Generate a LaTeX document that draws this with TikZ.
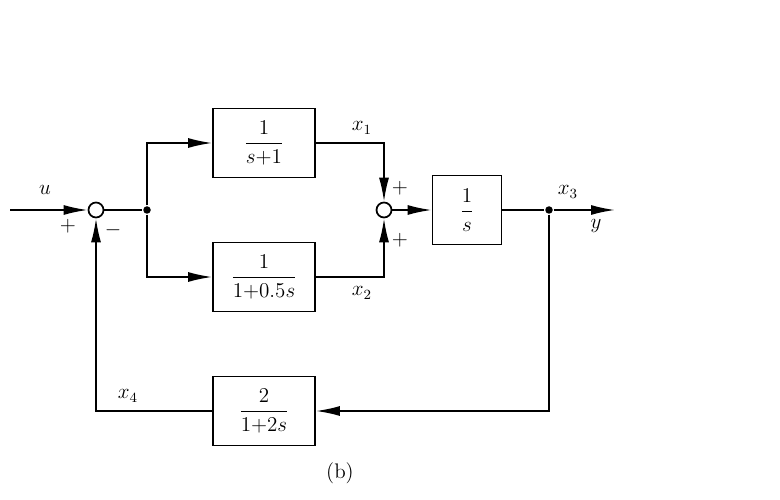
\documentclass[tikz,border=0pt]{standalone}
\usepackage{amsmath}
\usetikzlibrary{arrows.meta, positioning, calc}

\begin{document}
\begin{tikzpicture}[
    line width=1pt,
    block/.style={rectangle, draw, minimum width=2.04cm, minimum height=1.38cm, align=center, font=\large},
    sumnode/.style={circle, draw, minimum size=0.3cm, inner sep=0pt},
    junc/.style={circle, fill, minimum size=0.15cm, inner sep=0pt},
    arrow/.style={-{Latex[length=4.8mm,width=2mm]}},
    lab/.style={font=\large, inner sep=1pt},
]
\useasboundingbox (0,0) rectangle (15.6,-10);
\coordinate (in) at (0.2,-4.2);
\node[sumnode] (sum1) at (1.92,-4.2) {};
\node[junc] (split) at (2.94,-4.2) {};
\node[block] (g1) at (5.28,-2.86) {$\dfrac{1}{s{+}1}$};
\node[block] (g2) at (5.28,-5.54) {$\dfrac{1}{1{+}0.5s}$};
\node[sumnode] (sum2) at (7.68,-4.2) {};
\node[block, minimum width=1.38cm] (g3) at (9.34,-4.2) {$\dfrac{1}{s}$};
\node[junc] (tap) at (10.98,-4.2) {};
\coordinate (out) at (12.3,-4.2);
\node[block] (h) at (5.28,-8.22) {$\dfrac{2}{1{+}2s}$};
% signal labels
\node[lab] (lu) at (0.9,-3.8) {$u$};
\node[lab] (lp1) at (1.36,-4.52) {$+$};
\node[lab] (lm1) at (2.26,-4.6) {$-$};
\node[lab] (lx1) at (7.24,-2.56) {$x_1$};
\node[lab] (lx2) at (7.24,-5.86) {$x_2$};
\node[lab] (lp2) at (8.0,-3.76) {$+$};
\node[lab] (lp3) at (8.0,-4.8) {$+$};
\node[lab] (lx3) at (11.36,-3.84) {$x_3$};
\node[lab] (ly) at (11.92,-4.52) {$y$};
\node[lab] (lx4) at (2.56,-7.92) {$x_4$};
\node[lab] (cap) at (6.8,-9.46) {(b)};

\draw[arrow] (in) -- (sum1);
\draw (sum1) -- (split);
\draw[arrow] (split) |- (g1);
\draw[arrow] (split) |- (g2);
\draw[arrow] (g1) -| (sum2);
\draw[arrow] (g2) -| (sum2);
\draw[arrow] (sum2) -- (g3);
\draw (g3) -- (tap);
\draw[arrow] (tap) -- (out);
\draw[arrow] (tap) |- (h);
\draw[arrow] (h) -| (sum1);
\end{tikzpicture}
\end{document}
